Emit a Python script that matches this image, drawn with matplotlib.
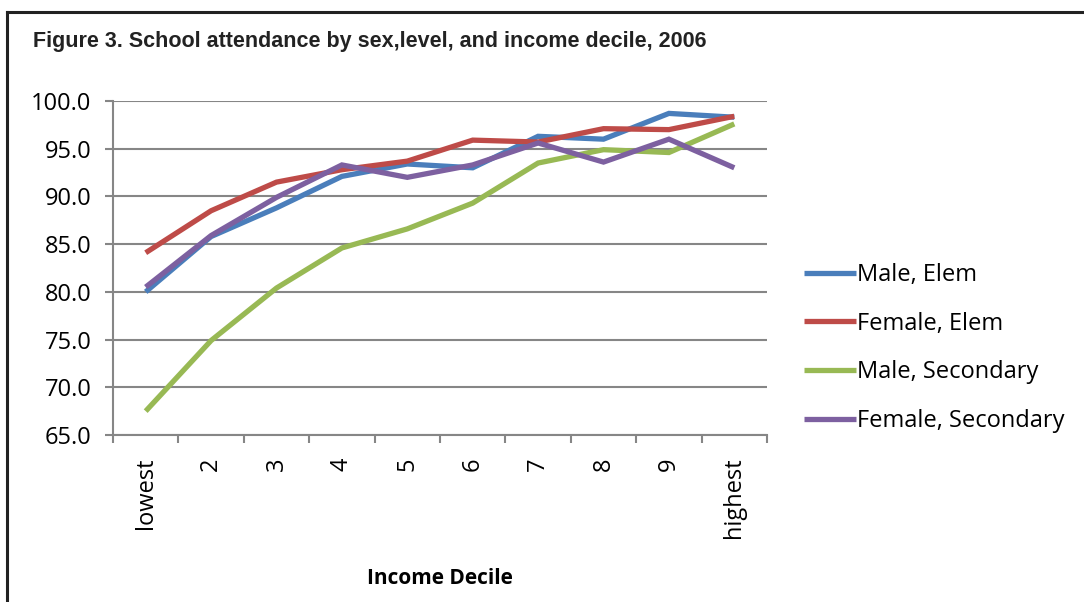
import matplotlib
matplotlib.use('Agg')
import matplotlib.pyplot as plt
from matplotlib.lines import Line2D

# Data
deciles = ['lowest', '2', '3', '4', '5', '6', '7', '8', '9', 'highest']
male_elem = [80.0, 85.8, 88.8, 92.1, 93.4, 93.0, 96.3, 96.0, 98.7, 98.3]
female_elem = [84.1, 88.5, 91.5, 92.8, 93.7, 95.9, 95.7, 97.1, 97.0, 98.4]
male_secondary = [67.5, 74.9, 80.4, 84.6, 86.6, 89.3, 93.5, 94.9, 94.6, 97.6]
female_secondary = [80.5, 85.9, 89.9, 93.3, 92.0, 93.3, 95.6, 93.6, 96.0, 93.0]
series_labels = ['Male, Elem', 'Female, Elem', 'Male, Secondary', 'Female, Secondary']
series_colors = ['#4A7EBB', '#BE4B48', '#98B954', '#7D60A0']
y_ticks = [65.0, 70.0, 75.0, 80.0, 85.0, 90.0, 95.0, 100.0]

W, H = 1084, 602
fig = plt.figure(figsize=(W / 100, H / 100), dpi=100)
fig.patch.set_facecolor('white')

# Outer frame (top + left edges of the figure box)
fig.add_artist(Line2D([7 / W, 1.0], [1 - 12 / H, 1 - 12 / H], color='#222222', lw=2.2,
                      transform=fig.transFigure))
fig.add_artist(Line2D([7 / W, 7 / W], [0.0, 1 - 12 / H], color='#222222', lw=2.2,
                      transform=fig.transFigure))

fig.text(33 / W, 1 - 47 / H, 'Figure 3. School attendance by sex,level, and income decile, 2006',
         family='Liberation Sans', weight='bold', fontsize=15.5, va='baseline', ha='left',
         color='#222222')

ax = fig.add_axes([113 / W, 1 - 435 / H, (767 - 113) / W, (435 - 101) / H])

x = list(range(len(deciles)))
all_series = [male_elem, female_elem, male_secondary, female_secondary]
for vals, lab, col in zip(all_series, series_labels, series_colors):
    ax.plot(x, vals, color=col, lw=3.8, label=lab, solid_capstyle='butt', solid_joinstyle='miter')

ax.set_xlim(-0.5, len(deciles) - 0.5)
ax.set_ylim(65, 100)

grid_col = '#868686'
ax.set_yticks(y_ticks)
ax.set_yticklabels(['%.1f' % v for v in y_ticks], family='Open Sans', fontsize=17)
ax.yaxis.grid(True, color=grid_col, lw=1.5)
ax.set_axisbelow(True)

ax.set_xticks(x)
ax.set_xticklabels(deciles, rotation=90, va='top', family='Open Sans', fontsize=17)
ax.set_xticks([i - 0.5 for i in range(len(deciles) + 1)], minor=True)
ax.tick_params(axis='x', which='major', length=0, pad=16)
ax.tick_params(axis='x', which='minor', length=6, width=1.5, color=grid_col, direction='out')
ax.tick_params(axis='y', length=6, width=1.5, color=grid_col, pad=9.5)

for side in ['top', 'right']:
    ax.spines[side].set_visible(False)
for side in ['left', 'bottom']:
    ax.spines[side].set_color(grid_col)
    ax.spines[side].set_linewidth(1.5)

fig.text(440 / W, 1 - 578 / H, 'Income Decile', family='Open Sans', weight='bold',
         fontsize=15, ha='center', va='center')

leg = fig.legend(loc='center left', bbox_to_anchor=(804 / W, 1 - 348 / H), frameon=False,
                 prop={'family': 'Open Sans', 'size': 17}, handlelength=2.2,
                 handletextpad=0.05, labelspacing=1.04, borderpad=0, borderaxespad=0)

fig.savefig('out.png', dpi=100)
